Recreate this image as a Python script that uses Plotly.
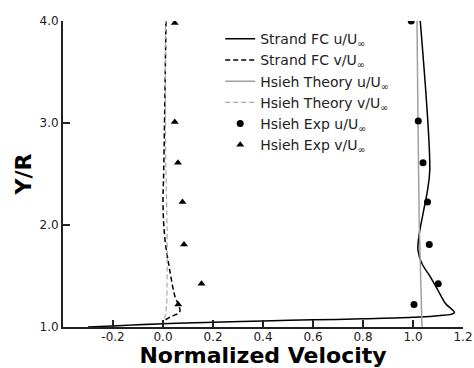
import plotly.graph_objects as go

# Strand FC u/U_inf (black solid)
strand_u_x = [-0.30, 0.00, 0.20, 0.40, 0.60, 0.80, 1.00, 1.10, 1.165, 1.13, 1.10, 1.07, 1.036, 1.02, 1.023, 1.04, 1.058, 1.067, 1.029]
strand_u_y = [1.00, 1.033, 1.046, 1.06, 1.07, 1.08, 1.095, 1.11, 1.14, 1.23, 1.36, 1.49, 1.62, 1.75, 1.88, 2.11, 2.34, 2.54, 4.00]

# Strand FC v/U_inf (black dashed)
strand_v_x = [0.00, 0.003, 0.03, 0.067, 0.06, 0.049, 0.027, 0.007, 0.000, 0.003, 0.012]
strand_v_y = [1.00, 1.05, 1.10, 1.147, 1.23, 1.29, 1.556, 1.88, 2.21, 2.54, 4.00]

# Hsieh Theory u/U_inf (gray solid)
theory_u_x = [1.036, 1.030, 1.025, 1.020, 1.016]
theory_u_y = [1.00, 1.50, 2.00, 3.00, 4.00]

# Hsieh Theory v/U_inf (gray dashed)
theory_v_x = [0.000, 0.008, 0.014, 0.016, 0.016, 0.012, 0.010, 0.010]
theory_v_y = [1.00, 1.10, 1.20, 1.40, 2.00, 2.50, 3.00, 4.00]

# Hsieh Exp u/U_inf (dots)
exp_u_x = [1.004, 1.101, 1.065, 1.058, 1.040, 1.021, 0.993]
exp_u_y = [1.22, 1.425, 1.81, 2.225, 2.61, 3.02, 4.00]

# Hsieh Exp v/U_inf (triangles)
exp_v_x = [0.061, 0.154, 0.084, 0.078, 0.060, 0.047, 0.047]
exp_v_y = [1.22, 1.425, 1.81, 2.225, 2.61, 3.01, 3.98]

x_ticks = [-0.2, 0.0, 0.2, 0.4, 0.6, 0.8, 1.0, 1.2]
y_ticks = [1.0, 2.0, 3.0, 4.0]

U = "<sub>∞</sub>"
fig = go.Figure()
fig.add_trace(go.Scatter(x=strand_u_x, y=strand_u_y, mode="lines", name="Strand FC u/U" + U,
                         line=dict(color="black", width=1.5), line_shape="spline"))
fig.add_trace(go.Scatter(x=strand_v_x, y=strand_v_y, mode="lines", name="Strand FC v/U" + U,
                         line=dict(color="black", width=1.5, dash="5px,3px"), line_shape="spline"))
fig.add_trace(go.Scatter(x=theory_u_x, y=theory_u_y, mode="lines", name="Hsieh Theory u/U" + U,
                         line=dict(color="#a0a0a0", width=1.5)))
fig.add_trace(go.Scatter(x=theory_v_x, y=theory_v_y, mode="lines", name="Hsieh Theory v/U" + U,
                         line=dict(color="#a8a8a8", width=1.2, dash="5px,3px"), line_shape="spline"))
fig.add_trace(go.Scatter(x=exp_u_x, y=exp_u_y, mode="markers", name="Hsieh Exp u/U" + U,
                         marker=dict(color="black", size=7, symbol="circle")))
fig.add_trace(go.Scatter(x=exp_v_x, y=exp_v_y, mode="markers", name="Hsieh Exp v/U" + U,
                         marker=dict(color="black", size=7, symbol="triangle-up")))

axis_common = dict(showgrid=False, zeroline=False, showline=True, linecolor="#222", linewidth=2,
                   ticks="inside", tickcolor="#222", tickwidth=1.5, ticklen=7, automargin=False,
                   tickfont=dict(family="DejaVu Sans", size=12, color="#222"), mirror=False)

fig.update_layout(
    width=474, height=368,
    margin=dict(l=63, r=11, t=21, b=41),
    plot_bgcolor="white", paper_bgcolor="white",
    font=dict(family="DejaVu Sans", color="black"),
    xaxis=dict(range=[-0.4, 1.2], tickvals=x_ticks, ticktext=[f"{v:.1f}" for v in x_ticks],
               ticklabelstandoff=-2,
               title=dict(text="<b>Normalized Velocity</b>", font=dict(size=22, family="DejaVu Sans"), standoff=4),
               **axis_common),
    yaxis=dict(range=[1.0, 4.0], tickvals=y_ticks, ticktext=[f"{v:.1f}" for v in y_ticks],
               title=dict(text="<b>Y/R</b>", font=dict(size=22, family="DejaVu Sans"), standoff=2),
               **axis_common),
    legend=dict(x=0.393, y=0.993, xanchor="left", yanchor="top", bgcolor="rgba(0,0,0,0)",
                font=dict(family="DejaVu Sans", size=14, color="#222"), tracegroupgap=0),
    showlegend=True,
)

fig.write_html("out.html")
